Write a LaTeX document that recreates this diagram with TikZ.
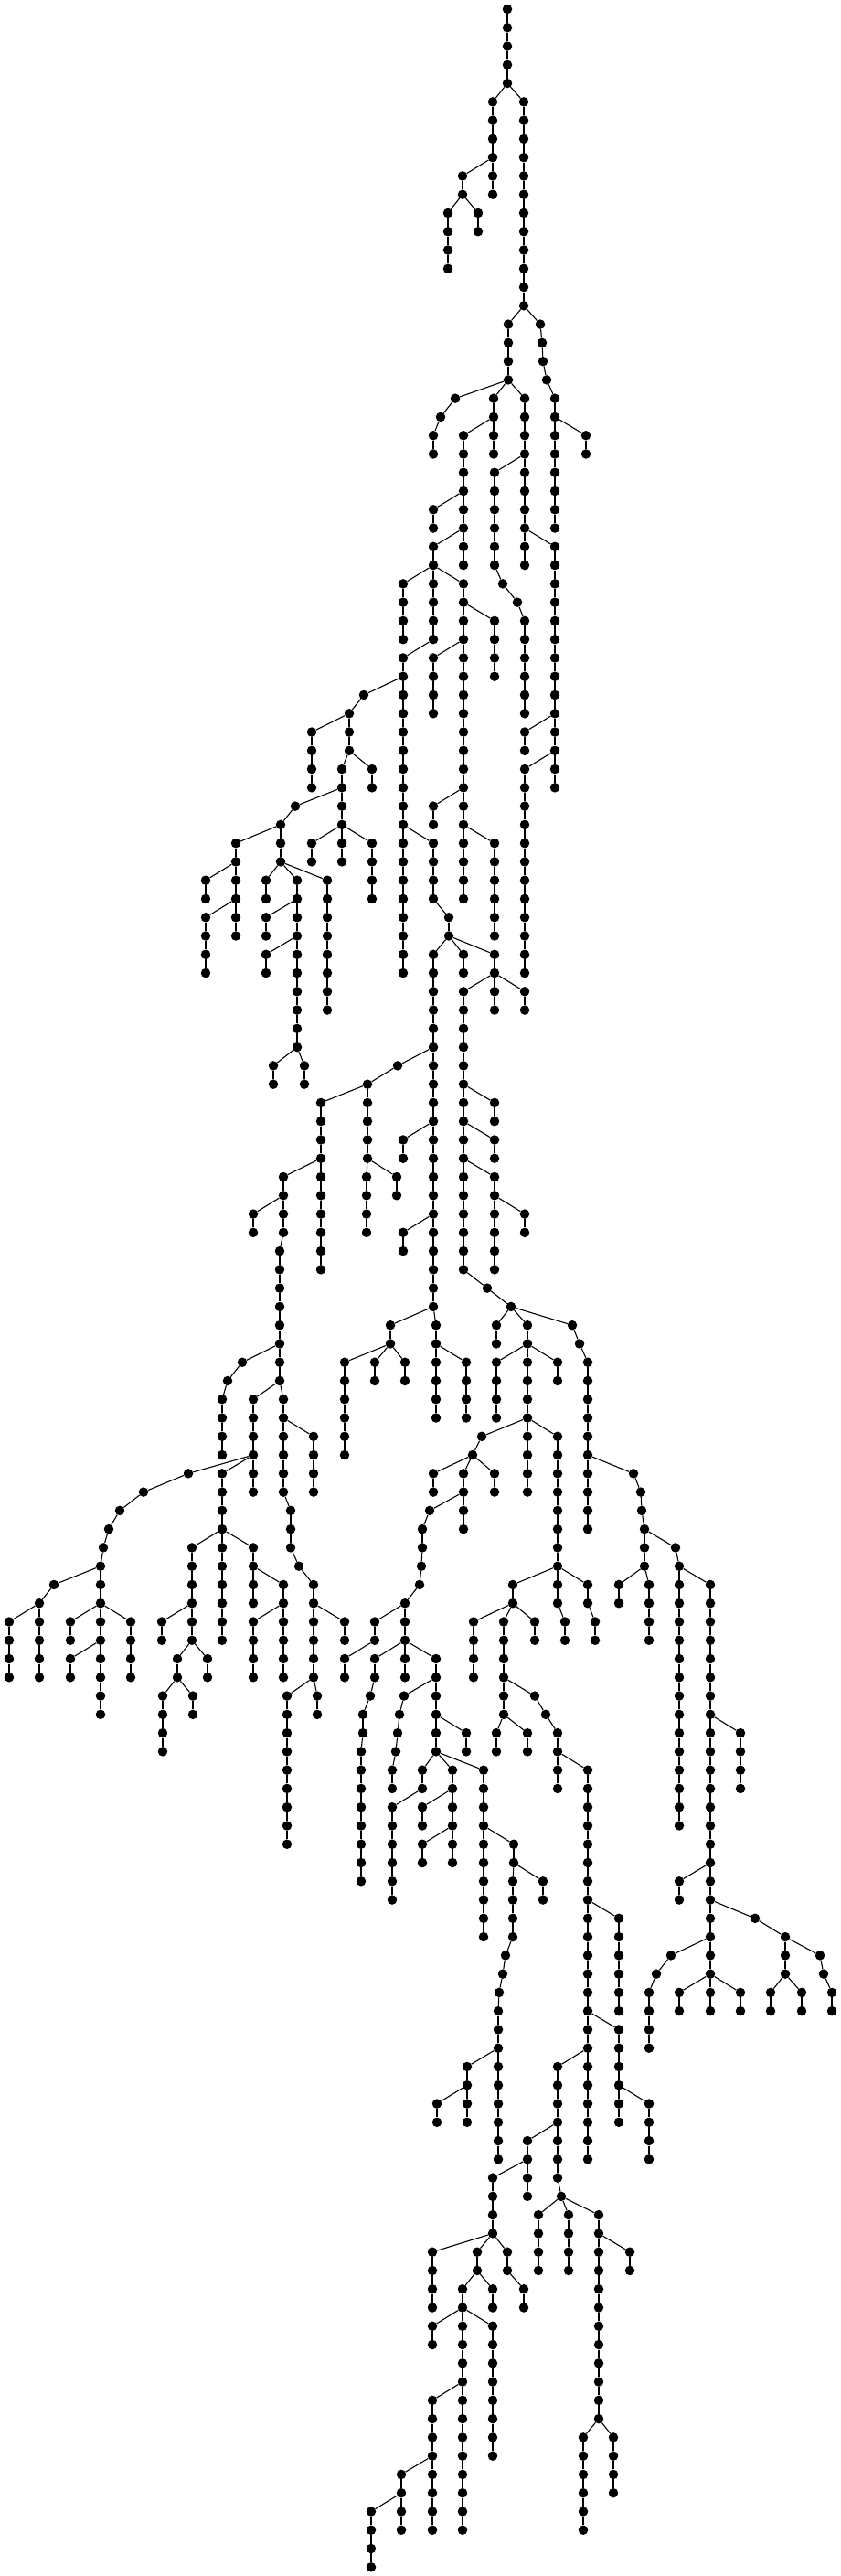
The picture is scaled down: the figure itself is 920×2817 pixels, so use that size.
\documentclass[tikz,border=0pt]{standalone}
\begin{document}
\begin{tikzpicture}[x=1bp,y=-1bp,
  dot/.style={circle,fill=black,draw=none,inner sep=0pt,minimum size=10.5bp},
  edge/.style={line width=1.1bp,black}]
\useasboundingbox (0,0) rectangle (920,2817);
\foreach \cid/\cx/\ca/\cb/\cp in {
A/555/0/4/none,
B/539/5/10/A-4,
C/573/5/16/A-4,
D/506/9/10/B-8,
E/490/11/14/D-10,
F/523/11/12/D-10,
G/556/17/20/C-16,
Ha/591/17/17/C-16,
Hb/593/18/18/Ha-17,
Hc/594/19/19/Hb-18,
Hd/598/20/20/Hc-19,
H/607/21/28/Hd-20,
Ia/498/21/21/G-20,
Ib/482/22/22/Ia-21,
I/474/23/24/Ib-22,
J/540/21/24/G-20,
K/574/21/30/G-20,
L/507/23/30/J-22,
M/641/23/24/H-22,
N/541/25/30/K-24,
Na/550/31/31/N-30,
Nb/566/32/32/Na-31,
Nc/574/33/38/Nb-32,
O/607/29/42/K-28,
P/474/27/28/L-26,
Q/474/29/34/L-28,
R/441/31/34/Q-30,
S/507/31/48/Q-30,
T/541/33/36/S-32,
U/441/35/52/Q-34,
V/474/35/38/S-34,
W/574/39/40/O-38,
X/574/41/52/O-40,
Y/474/43/44/S-42,
Z/541/45/50/S-44,
AA/474/45/48/U-44,
AB/491/49/50/AA-48,
AC/398/37/37/U-36,
AD/382/38/40/AC-37,
AE/341/39/42/AD-38,
AF/407/41/42/AD-40,
AG/374/41/44/AD-40,
AH/341/45/46/AG-44,
AI/374/45/46/AG-44,
AJ/407/45/48/AG-44,
AK/323/43/43/AG-42,
AL/307/44/46/AK-43,
AM/258/45/46/AL-44,
AN/225/47/48/AM-46,
AO/258/47/50/AM-46,
AOb/225/49/52/AO-48,
AP/291/47/48/AL-46,
AQ/325/47/56/AL-46,
AR/358/47/54/AL-46,
AS/291/49/50/AQ-48,
AT/291/51/52/AQ-50,
AU/299/57/58/AQ-56,
AV/333/57/58/AQ-56,
BA/474/51/70/AB-50,
BB/507/51/52/AB-50,
BC/541/51/54/AB-50,
BD/507/53/68/BC-52,
BE/574/53/54/BC-52,
BF/541/59/60/BD-58,
BGa/435/57/57/BA-56,
BGb/402/58/58/BGa-57,
BH/351/59/68/BGb-58,
BI/402/59/62/BGb-58,
BIb/401/63/66/BI-62,
BJ/434/63/64/BI-62,
BK/310/63/66/BH-62,
BL/277/65/66/BK-64,
BM/306/67/74/BK-66,
BN/441/61/62/BA-60,
BO/441/66/67/BA-65,
BP/541/61/62/BD-60,
BQ/541/63/68/BD-62,
BR/574/65/66/BQ-64,
BSa/533/69/69/BD-68,
BSb/559/70/70/BSa-69,
BT/543/71/72/BSb-70,
BU/577/71/80/BSb-70,
BV/626/71/71/BSb-70,
BW/634/72/72/BV-71,
BX/643/73/82/BW-72,
BY/427/71/72/BA-70,
BZ/477/71/76/BA-70,
CA/510/73/76/BZ-72,
CB/377/73/78/BY-72,
CC/410/73/74/BY-72,
CD/443/73/74/BY-72,
CE/543/73/76/BU-72,
CF/610/73/74/BU-72,
CGa/527/77/77/BU-76,
CGb/517/78/78/CGa-77,
CH/610/77/84/BU-76,
CI/474/79/80/CGb-78,
CJ/507/79/82/CGb-78,
CK/541/79/80/CGb-78,
CLa/470/81/81/CJ-80,
CLb/462/82/83/CLa-81,
CLc/461/84/84/CLb-83,
CLd/459/85/85/CLc-84,
CM/443/86/90/CLd-85,
CNa/693/79/79/BX-78,
CNb/701/80/80/CNa-79,
CNc/702/81/81/CNb-80,
CN/705/82/84/CNc-81,
COa/739/83/83/CN-82,
CO/743/84/98/COa-83,
CP/677/85/86/CN-84,
CQ/710/85/88/CN-84,
CR/777/85/108/CO-84,
CS/810/93/96/CR-92,
CT/743/101/102/CR-100,
CUa/826/103/103/CR-102,
CUb/859/104/106/CUa-103,
CV/843/107/108/CUb-106,
CW/877/107/108/CUb-106,
CXa/897/105/105/CUb-104,
CXb/901/106/106/CXa-105,
CX/910/107/108/CXb-106,
CY/743/107/108/CR-106,
DA/810/107/108/CR-106,
DBa/734/105/105/CR-104,
DBb/718/106/106/DBa-105,
DB/710/107/110/DBb-106,
DC/561/85/86/CH-84,
DD/610/85/86/CH-84,
DDb/618/87/88/DD-86,
DE/643/85/86/CH-84,
DEb/651/87/88/DE-86,
DF/518/87/90/DC-86,
DG/551/87/92/DC-86,
DH/585/87/88/DC-86,
DIa/585/91/91/DG-90,
DIb/597/92/92/DIa-91,
DI/610/93/96/DIb-92,
DJ/643/95/116/DI-94,
DK/543/93/94/DG-92,
DL/577/93/94/DG-92,
DM/677/103/108/DJ-102,
DN/677/109/114/DJ-108,
DO/710/113/116/DN-112,
DP/610/111/117/DJ-110,
DPb/614/118/118/DP-117,
DQ/577/115/118/DP-114,
DR/539/117/120/DQ-116,
DS/589/119/122/DPb-118,
DT/622/119/122/DPb-118,
DU/655/119/130/DPb-118,
DV/689/121/122/DU-120,
DW/638/131/136/DU-130,
DX/671/131/134/DU-130,
DY/473/121/124/DR-120,
DZ/522/121/122/DR-120,
EA/555/121/122/DR-120,
EB/506/123/136/DZ-122,
EC/539/123/124/DZ-122,
ED/573/123/124/EA-122,
EE/473/125/126/EB-124,
EF/539/125/132/EB-124,
EG/473/129/136/EB-128,
EH/439/133/136/EG-132,
EI/406/135/138/EH-134,
EJ/410/87/88/CM-86,
EK/377/89/90/EJ-88,
EL/410/89/90/CM-88,
ELb/405/91/91/EL-90,
ELc/397/92/93/ELb-91,
EM/395/94/101/ELc-93,
EN/477/89/94/CM-88,
EOa/442/91/91/EN-90,
EOb/437/92/92/EOa-91,
EOc/435/93/93/EOb-92,
EOd/433/94/94/EOc-93,
EO/429/95/96/EOd-94,
EP/510/93/94/EN-92,
EQ/462/95/96/EN-94,
ER/429/97/102/EQ-96,
ES/495/95/100/EN-94,
ET/462/97/98/ES-96,
EU/462/99/100/ES-98,
EV/529/95/104/EN-94,
EW/562/99/100/EV-98,
EX/594/101/102/EW-100,
EY/561/101/104/EW-100,
EZa/553/105/105/EY-104,
EZb/550/106/106/EZa-105,
EZc/546/107/107/EZb-106,
EZ/545/108/116/EZc-107,
FA/511/111/114/EZ-110,
FB/478/113/114/FA-112,
FDa/265/73/73/BM-72,
FDb/249/74/74/FDa-73,
FD/243/75/78/FDb-74,
FE/277/75/80/BM-74,
FF/310/75/80/BM-74,
FG/343/77/80/FF-76,
FHa/318/81/83/FF-80,
FHb/327/84/84/FHa-83,
FH/343/85/90/FHb-84,
FI/377/87/88/FH-86,
FJ/347/91/92/FH-90,
FK/314/91/99/FH-90,
FLa/206/79/79/FE-78,
FLb/157/80/80/FLa-79,
FLc/131/81/81/FLb-80,
FLd/119/82/82/FLc-81,
FLe/113/83/83/FLd-82,
FL/110/84/92/FLe-83,
FMa/59/85/85/FL-84,
FMb/43/86/86/FMa-85,
FN/10/87/90/FMb-86,
FO/43/87/90/FMb-86,
FP/77/87/88/FL-86,
FQ/143/87/90/FL-86,
FR/77/89/90/FL-88,
FS/243/79/88/FE-78,
FT/210/83/88/FS-82,
FU/277/83/86/FS-82,
FV/310/85/90/FU-84,
FW/277/87/90/FV-86,
FX/177/87/88/FT-86,
FY/194/89/90/FT-88,
FZ/227/89/90/FT-88,
GA/178/91/94/FY-90,
GB/211/91/92/FY-90%
}{
  \foreach \l in {\ca,...,\cb}{\node[dot] (\cid-\l) at (\cx,{10+20.27*\l}) {};}
  \ifnum\ca<\cb
    \pgfmathtruncatemacro\cc{\ca+1}
    \foreach \l in {\cc,...,\cb}{\pgfmathtruncatemacro\pl{\l-1}\draw[edge] (\cid-\pl) -- (\cid-\l);}
  \fi
  \edef\pp{\cp}\def\nonestr{none}
  \ifx\pp\nonestr\else\draw[edge] (\cp) -- (\cid-\ca);\fi
}
\end{tikzpicture}
\end{document}
